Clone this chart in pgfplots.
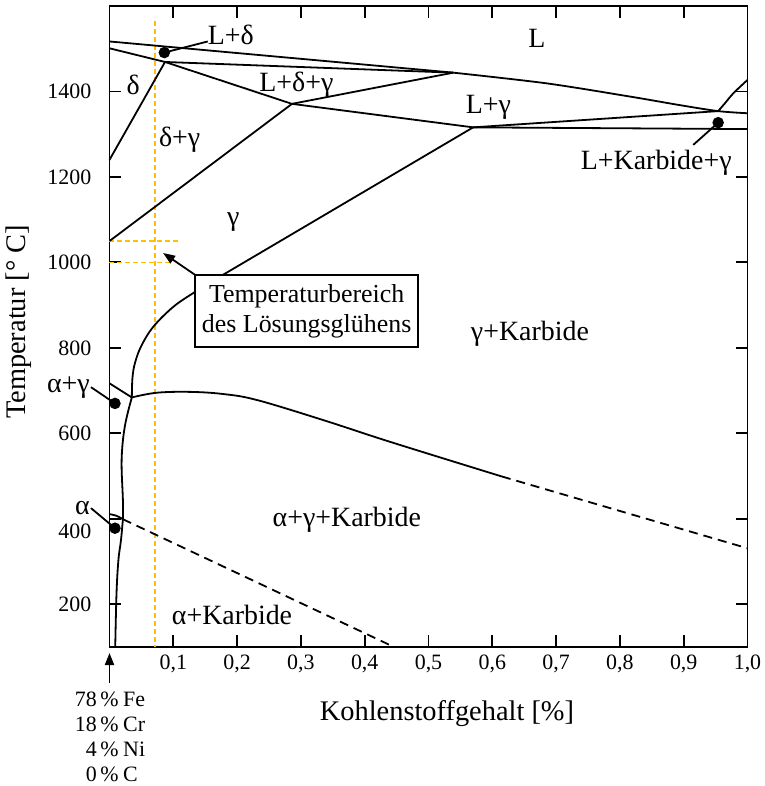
\documentclass[border=0pt]{standalone}
\usepackage{fontspec}
\setmainfont{Liberation Serif}
\usepackage{pgfplots}
\pgfplotsset{compat=1.18}
\usetikzlibrary{arrows.meta}
\definecolor{orng}{RGB}{255,192,0}
\newcommand{\lbl}{\fontsize{28}{32}\selectfont}
\newcommand{\boxf}{\fontsize{26}{30}\selectfont}
\newcommand{\ttl}{\fontsize{28.5}{32}\selectfont}
\newcommand{\tck}{\fontsize{22}{26}\selectfont}
\begin{document}
\begin{tikzpicture}
\begin{axis}[name=ax, scale only axis, width=638bp, height=641bp,
 xmin=0, xmax=1, ymin=100, ymax=1600, clip=false,
 axis line style={line width=1.8bp},
 tick pos=both, tick align=inside, major tick length=12bp,
 every tick/.style={line width=1.8bp, black},
 xtick={0.1,0.2,0.3,0.4,0.5,0.6,0.7,0.8,0.9,1.0},
 xticklabels={{0,1},{0,2},{0,3},{0,4},{0,5},{0,6},{0,7},{0,8},{0,9},{1,0}},
 ytick={200,400,600,800,1000,1200,1400},
 yticklabels={200,\raisebox{-12bp}{400},600,800,1000,1200,1400},
 xticklabel style={font=\tck, anchor=base, yshift=-23bp},
 yticklabel style={font=\tck, anchor=base east, inner sep=0pt, xshift=-18bp, yshift=-7.5bp},
 every axis plot/.append style={line width=1.8bp, black},
]
% orange guide lines
\addplot[orng, line width=1.6bp, dash pattern=on 5bp off 3bp] coordinates {(0.071,1566) (0.071,100)};
\addplot[orng, line width=1.6bp, dash pattern=on 5bp off 3bp] coordinates {(0,1050) (0.107,1050)};
\addplot[orng, line width=1.6bp, dash pattern=on 5bp off 3bp] coordinates {(0,1000) (0.095,1000)};
% liquidus
\addplot[sharp plot] coordinates {(0,1517) (0.539,1444)};
\addplot[smooth, tension=0.5] coordinates {(0.539,1444) (0.685,1419) (0.816,1388) (0.894,1368) (0.954,1354) (1.0,1349)};
% delta solidus and L+delta lower line
\addplot[sharp plot] coordinates {(0,1501) (0.087,1469) (0.539,1444)};
% delta / delta+gamma
\addplot[sharp plot] coordinates {(0,1240) (0.087,1469)};
% L+delta+gamma triangle
\addplot[sharp plot] coordinates {(0.087,1469) (0.286,1371) (0.539,1444)};
\addplot[sharp plot] coordinates {(0.286,1371) (0.570,1316) (0.954,1354)};
\addplot[sharp plot] coordinates {(0.570,1316) (1.0,1312)};
\addplot[smooth, tension=0.6] coordinates {(0.954,1354) (0.965,1373) (0.978,1396) (1.0,1427)};
% delta+gamma / gamma
\addplot[sharp plot] coordinates {(0,1050) (0.286,1371)};
% gamma / gamma+carbide
\addplot[sharp plot] coordinates {(0.570,1316) (0.178,971)};
\addplot[smooth, tension=0.6] coordinates {(0.178,971) (0.155,950) (0.131,928) (0.1,896) (0.069,850) (0.05,805) (0.04,765) (0.036,730) (0.035,684)};
% alpha+gamma top
\addplot[sharp plot] coordinates {(0,717) (0.035,684)};
\addplot[smooth, tension=0.6] coordinates {(0.035,684) (0.074,695) (0.126,697) (0.178,692) (0.231,678) (0.335,631) (0.44,580) (0.615,499)};
\addplot[sharp plot, dash pattern=on 9bp off 6bp] coordinates {(0.615,499) (1.0,331)};
% alpha / alpha+gamma
\addplot[smooth, tension=0.6] coordinates {(0.035,684) (0.024,616) (0.019,538) (0.021,444) (0.021,399)};
\addplot[smooth, tension=0.6] coordinates {(0,411) (0.011,407) (0.021,399)};
\addplot[smooth, tension=0.6] coordinates {(0.021,399) (0.018,350) (0.014,304) (0.011,226) (0.009,100)};
\addplot[sharp plot, dash pattern=on 9bp off 6bp] coordinates {(0.021,399) (0.446,100)};
% dots
\addplot[only marks, mark=*, mark size=4.8bp, black] coordinates {(0.086,1491) (0.954,1327) (0.0086,670) (0.0086,378)};
% pointer lines
\draw[line width=1.8bp] (axis cs:0.086,1491) -- (axis cs:0.154,1517);
\draw[line width=1.8bp] (axis cs:0.954,1327) -- (axis cs:0.915,1275);
\draw[line width=1.8bp] (axis cs:0.0086,670) -- (axis cs:-0.029,708);
\draw[line width=1.8bp] (axis cs:0.0086,378) -- (axis cs:-0.029,425);
% labels
\node[font=\lbl] at (axis cs:0.190,1532) {L+δ};
\node[font=\lbl] at (axis cs:0.857,1233) {L+Karbide+γ};
\node[font=\lbl, anchor=east, inner sep=1bp] at (axis cs:-0.029,708) {α+γ};
\node[font=\lbl, anchor=east, inner sep=1bp] at (axis cs:-0.029,425) {α};
\node[font=\lbl] at (axis cs:0.670,1525) {L};
\node[font=\lbl] at (axis cs:0.037,1415) {δ};
\node[font=\lbl] at (axis cs:0.293,1415) {L+δ+γ};
\node[font=\lbl] at (axis cs:0.594,1364) {L+γ};
\node[font=\lbl] at (axis cs:0.110,1287) {δ+γ};
\node[font=\lbl] at (axis cs:0.194,1095) {γ};
\node[font=\lbl] at (axis cs:0.659,833) {γ+Karbide};
\node[font=\lbl] at (axis cs:0.372,397) {α+γ+Karbide};
\node[font=\lbl] at (axis cs:0.192,175) {α+Karbide};
% box and arrow
\draw[-{Triangle[length=12bp,width=9bp]}, line width=1.8bp] (axis cs:0.134,971) -- (axis cs:0.084,1022);
\node[draw, line width=1.8bp, fill=white, font=\boxf, align=center, minimum width=223bp, minimum height=72bp, inner sep=2bp] at (axis cs:0.309,886.5) {Temperaturbereich\\des Lösungsglühens};
\end{axis}
% axis titles
\node[font=\ttl] at ([xshift=337.5bp,yshift=-67bp]ax.south west) {Kohlenstoffgehalt [\%]};
\node[font=\ttl, rotate=90] at ([xshift=-90.5bp,yshift=325bp]ax.south west) {Temperatur [° C]};
% composition arrow and text
\draw[-{Triangle[length=12bp,width=9bp]}, line width=1.8bp] ([yshift=-36bp]ax.south west) -- ([yshift=-6bp]ax.south west);
\foreach \n/\e/\d in {78/Fe/59,18/Cr/84,4/Ni/109,0/C/134}{
  \node[font=\tck, anchor=base east, inner sep=0pt] at ([xshift=-12.5bp,yshift=-\d bp]ax.south west) {\n};
  \node[font=\tck, anchor=base, inner sep=0pt] at ([yshift=-\d bp]ax.south west) {\%};
  \node[font=\tck, anchor=base west, inner sep=0pt] at ([xshift=13.5bp,yshift=-\d bp]ax.south west) {\e};
}
\pgfresetboundingbox
\path ([xshift=-109.5bp,yshift=-139bp]ax.south west) rectangle ([xshift=17bp,yshift=6bp]ax.north east);
\end{tikzpicture}
\end{document}
